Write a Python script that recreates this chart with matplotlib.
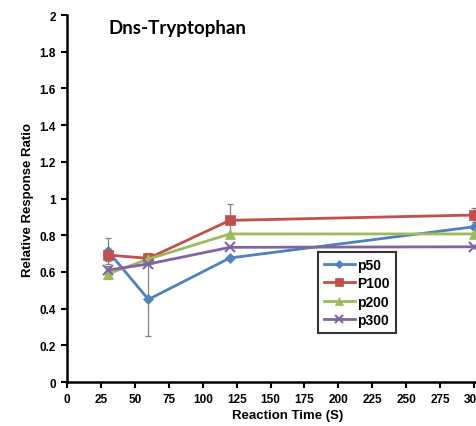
import matplotlib.pyplot as plt
import numpy as np

plt.rcParams['font.family'] = ['Liberation Sans', 'DejaVu Sans']

time_s = [30, 60, 120, 300]

p50 = [0.715, 0.45, 0.676, 0.846]
p50_err = [0.07, 0.20, 0.0, 0.0]
p100 = [0.692, 0.674, 0.881, 0.910]
p100_err = [0.03, 0.03, 0.09, 0.04]
p200 = [0.589, 0.670, 0.807, 0.807]
p200_err = [0.03, 0.02, 0.0, 0.0]
p300 = [0.610, 0.643, 0.734, 0.737]
p300_err = [0.02, 0.0, 0.0, 0.0]

series = [
    ("p50", p50, p50_err, "#4F81BD", "D", 5),
    ("P100", p100, p100_err, "#C0504D", "s", 7),
    ("p200", p200, p200_err, "#9BBB59", "^", 7),
    ("p300", p300, p300_err, "#8064A2", "x", 7),
]

fig = plt.figure(figsize=(4.76, 4.27), dpi=100)
ax = fig.add_axes([0.1408, 0.103, 0.9265, 0.8595])

for name, vals, err, color, marker, ms in series:
    ax.errorbar(time_s, vals, yerr=err, fmt="none", ecolor="#808080",
                elinewidth=0.9, capsize=2.5, capthick=0.9, zorder=2)
    ax.plot(time_s, vals, color=color, lw=2, marker=marker, ms=ms,
            mew=1.5 if marker == "x" else 0.5, label=name, zorder=3)

ax.set_xlim(0, 325)
ax.set_ylim(0, 2)
ax.set_xticks(np.arange(0, 326, 25))
ax.set_yticks(np.arange(0, 2.01, 0.2))
ax.set_yticklabels(["0", "0.2", "0.4", "0.6", "0.8", "1", "1.2", "1.4", "1.6", "1.8", "2"])

for side in ["top", "right"]:
    ax.spines[side].set_visible(False)
for side in ["left", "bottom"]:
    ax.spines[side].set_linewidth(1.8)
ax.tick_params(direction="out", length=4, width=1.5, labelsize=8.5, pad=4)
for lab in ax.get_xticklabels() + ax.get_yticklabels():
    lab.set_fontweight("bold")

ax.set_xlabel("Reaction Time (S)", fontsize=9.5, fontweight="bold", labelpad=3)
ax.set_ylabel("Relative Response Ratio", fontsize=9.5, fontweight="bold", labelpad=4)

fig.text(0.227, 0.934, "Dns-Tryptophan", fontsize=13.5, fontweight="bold",
         family=["Lato", "DejaVu Sans"], va="center")

leg = ax.legend(loc="upper left", bbox_to_anchor=(0.569, 0.354), borderaxespad=0,
                frameon=True, fancybox=False, edgecolor="black",
                prop={"weight": "bold", "size": 10},
                handlelength=2.3, handletextpad=0.15, borderpad=0.4, labelspacing=0.32,
                markerscale=0.8)
leg.get_frame().set_linewidth(1.5)

fig.savefig("out.png", dpi=100)
